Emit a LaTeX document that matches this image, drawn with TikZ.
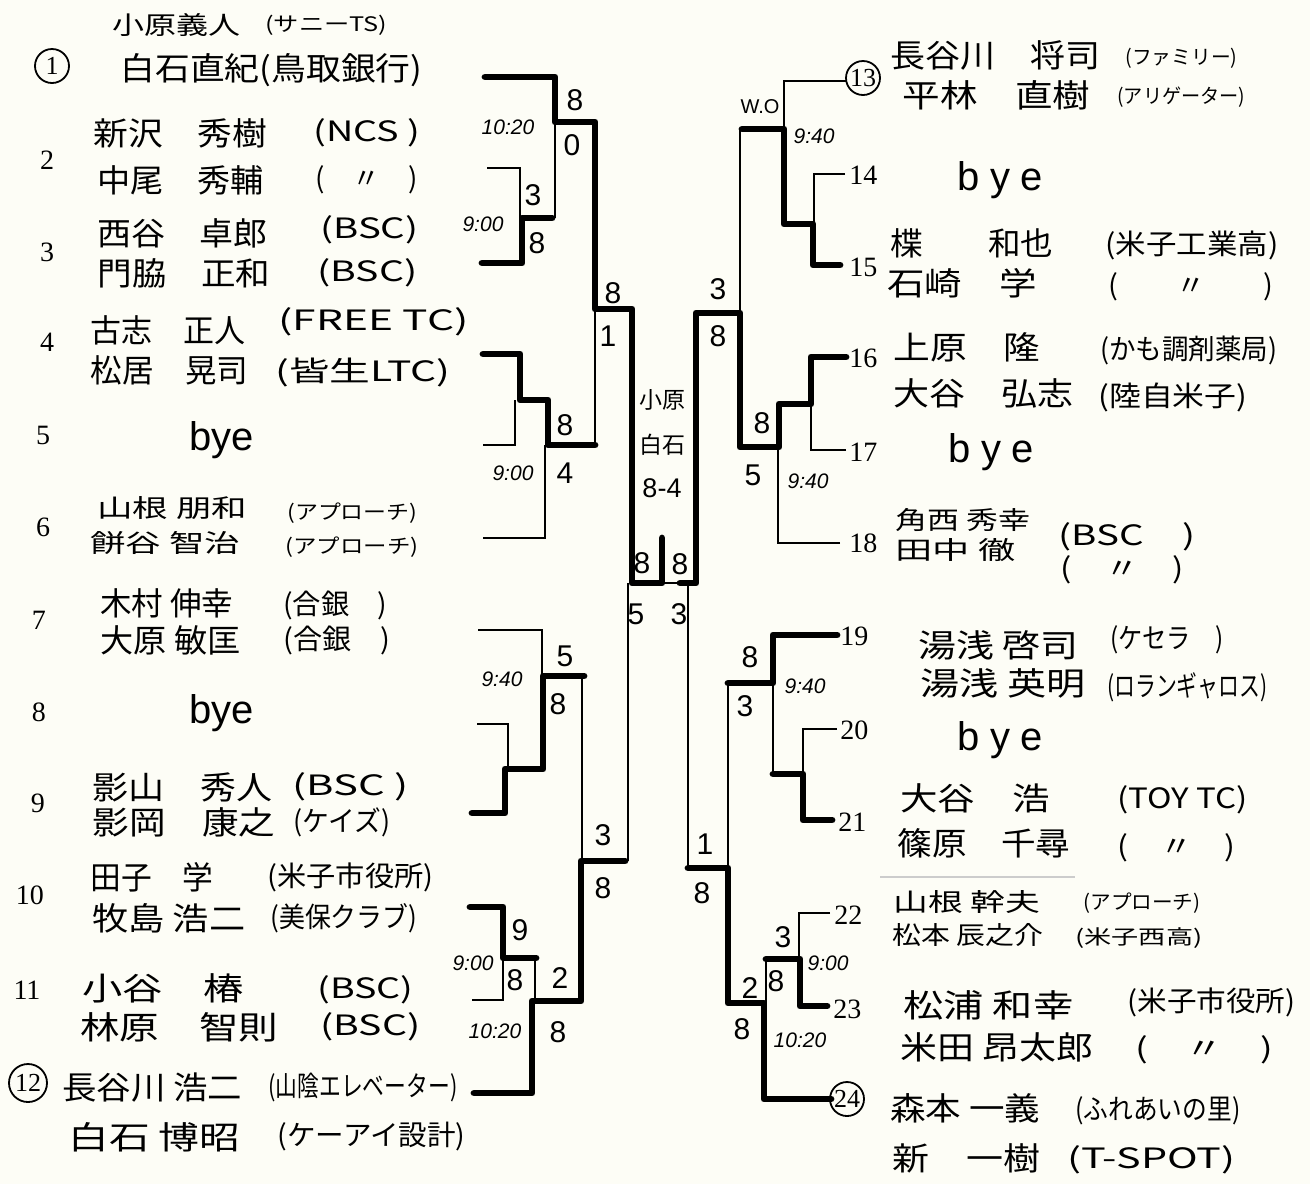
\documentclass[tikz,border=0pt]{standalone}
\usepackage{tikz}
\usepackage{graphicx}
\usepackage{fontspec}
\setmainfont{Liberation Serif}
\newfontfamily\jp{Noto Sans CJK JP}
\newfontfamily\hs{Liberation Sans}
\newlength\pxu \setlength\pxu{0.5pt}
\definecolor{paper}{RGB}{253,253,246}
\newcommand\tx[6]{\node[#1] (#2) at (#3,#4) {\resizebox{#5\pxu}{\height}{#6}};}
\tikzset{
  thk/.style={line width=3.4pt, line cap=round, line join=round},
  thn/.style={line width=0.9pt},
  nm/.style={anchor=west, inner sep=0pt, font=\jp\fontsize{16}{18}\selectfont},
  nms/.style={anchor=west, inner sep=0pt, font=\jp\fontsize{12.5}{15}\selectfont},
  tm/.style={anchor=west, inner sep=0pt, font=\jp\fontsize{14}{16}\selectfont},
  tms/.style={anchor=west, inner sep=0pt, font=\jp\fontsize{10}{12}\selectfont},
  sc/.style={inner sep=0pt, font=\hs\fontsize{15}{17}\selectfont},
  tim/.style={inner sep=0pt, font=\hs\itshape\fontsize{10.5}{12}\selectfont},
  seed/.style={inner sep=0pt, font=\fontsize{14}{16}\selectfont},
  rseed/.style={anchor=west, inner sep=0pt, font=\fontsize{14}{16}\selectfont},
  cseed/.style={draw, circle, line width=0.9pt, inner sep=0pt, minimum size=17pt, font=\fontsize{13}{15}\selectfont},
  byest/.style={inner sep=0pt, font=\hs\fontsize{20}{22}\selectfont},
  ctr/.style={inner sep=0pt, font=\jp\fontsize{11.5}{13}\selectfont},
}
\begin{document}
\begin{tikzpicture}[x=0.5pt,y=-0.5pt]
\useasboundingbox (0,0) rectangle (1310,1184);
\fill[paper] (0,0) rectangle (1310,1184);

% ---------- entry line ends ----------
\coordinate (e1) at (485,77);
\coordinate (e2) at (487,168);
\coordinate (e3) at (482,263);
\coordinate (e4) at (483,354);
\coordinate (e5) at (483,445);
\coordinate (e6) at (483,538);
\coordinate (e7) at (478,630);
\coordinate (e8) at (477,724);
\coordinate (e9) at (472,813);
\coordinate (e10) at (470,907);
\coordinate (e11) at (472,1000);
\coordinate (e12) at (474,1093);
\coordinate (e13) at (846,81);
\coordinate (e14) at (845,174);
\coordinate (e15) at (840,265);
\coordinate (e16) at (846,357);
\coordinate (e17) at (846,450);
\coordinate (e18) at (840,543);
\coordinate (e19) at (837,635);
\coordinate (e20) at (837,729);
\coordinate (e21) at (832,820);
\coordinate (e22) at (830,913);
\coordinate (e23) at (827,1006);
\coordinate (e24) at (831,1099);

% ---------- left upper half ----------
\draw[thk] (e1) -- (555,77) -- (555,122) -- (595,122) -- (595,309) -- (632,309) -- (632,583) -- (662,583) -- (662,538);
\draw[thn] (555,122) -- (555,218);
\draw[thn] (e2) -- (520,168) -- (520,218);
\draw[thk] (e3) -- (522,263) -- (522,218) -- (552,218);
\draw[thk] (e4) -- (520,354) -- (520,400) -- (548,400) -- (548,445) -- (595,445);
\draw[thn] (e5) -- (515,445) -- (515,400);
\draw[thn] (e6) -- (545,538) -- (545,445);
\draw[thn] (595,445) -- (595,309);

% ---------- final ----------
\draw[thn] (662,583) -- (680,583);
\draw[thk] (680,583) -- (696,583) -- (696,313) -- (740,313) -- (740,447) -- (779,447) -- (779,404) -- (811,404) -- (811,357) -- (e16);

% ---------- right upper half ----------
\draw[thn] (e17) -- (811,450) -- (811,404);
\draw[thn] (e18) -- (778,543) -- (778,447);
\draw[thn] (e13) -- (784,81) -- (784,129);
\draw[thk] (e15) -- (813,265) -- (813,224) -- (784,224) -- (784,129) -- (742,129);
\draw[thn] (e14) -- (814,174) -- (814,224);
\draw[thn] (740,129) -- (740,313);

% ---------- left lower half ----------
\draw[thn] (e7) -- (542,630) -- (542,676);
\draw[thk] (e9) -- (505,813) -- (505,769) -- (543,769) -- (543,676) -- (584,676);
\draw[thn] (e8) -- (508,724) -- (508,769);
\draw[thn] (582,676) -- (582,861);
\draw[thk] (e10) -- (503,907) -- (503,958) -- (536,958);
\draw[thn] (e11) -- (503,1000) -- (503,958);
\draw[thn] (535,958) -- (535,1001);
\draw[thk] (e12) -- (532,1093) -- (532,1001) -- (581,1001) -- (581,861) -- (625,861);
\draw[thn] (628,861) -- (628,583);

% ---------- right lower half ----------
\draw[thk] (e19) -- (773,635) -- (773,683) -- (728,683);
\draw[thn] (773,683) -- (773,774);
\draw[thn] (e20) -- (803,729) -- (803,774);
\draw[thk] (e21) -- (803,820) -- (803,774) -- (773,774);
\draw[thn] (728,683) -- (728,868);
\draw[thn] (e22) -- (799,913) -- (799,959);
\draw[thk] (e23) -- (800,1006) -- (800,959) -- (766,959);
\draw[thn] (766,959) -- (766,1003);
\draw[thk] (e24) -- (764,1099) -- (764,1003) -- (728,1003) -- (728,868) -- (688,868);
\draw[thn] (688,868) -- (688,583);

\draw[black!20, line width=0.6pt] (880,877) -- (1075,877);

% ---------- scores ----------
\node[sc] (a1) at (575,100) {8};
\node[sc] (a2) at (572,145) {0};
\node[sc] (a3) at (533,195) {3};
\node[sc] (a4) at (537,243) {8};
\node[sc] (a5) at (613,293) {8};
\node[sc] (a6) at (608,336) {1};
\node[sc] (a7) at (565,425) {8};
\node[sc] (a8) at (565,473) {4};
\node[sc] (a9) at (642,563) {8};
\node[sc] (a10) at (680,564) {8};
\node[sc] (a11) at (636,614) {5};
\node[sc] (a12) at (679,614) {3};
\node[sc] (a13) at (565,656) {5};
\node[sc] (a14) at (558,704) {8};
\node[sc] (a15) at (603,835) {3};
\node[sc] (a16) at (603,888) {8};
\node[sc] (a17) at (520,930) {9};
\node[sc] (a18) at (515,980) {8};
\node[sc] (a19) at (560,978) {2};
\node[sc] (a20) at (558,1032) {8};
\node[sc] (b1) at (718,289) {3};
\node[sc] (b2) at (718,336) {8};
\node[sc] (b3) at (762,423) {8};
\node[sc] (b4) at (753,475) {5};
\node[sc] (b5) at (750,657) {8};
\node[sc] (b6) at (745,706) {3};
\node[sc] (b7) at (705,844) {1};
\node[sc] (b8) at (702,893) {8};
\node[sc] (b9) at (783,937) {3};
\node[sc] (b10) at (776,981) {8};
\node[sc] (b11) at (750,988) {2};
\node[sc] (b12) at (742,1029) {8};

% ---------- times ----------
\node[tim] (m1) at (508,127) {10:20};
\node[tim] (m2) at (483,224) {9:00};
\node[tim] (m3) at (513,473) {9:00};
\node[tim] (m4) at (502,679) {9:40};
\node[tim] (m5) at (473,963) {9:00};
\node[tim] (m6) at (495,1031) {10:20};
\node[tim] (m7) at (814,136) {9:40};
\node[tim] (m8) at (808,481) {9:40};
\node[tim] (m9) at (805,686) {9:40};
\node[tim] (m10) at (828,963) {9:00};
\node[tim] (m11) at (800,1040) {10:20};
\node[tim, font=\hs\fontsize{10}{12}\selectfont] (wo) at (760,107) {W.O};

% ---------- centre ----------
\node[ctr] (c1) at (662,400) {小原};
\node[ctr] (c2) at (662,445) {白石};
\node[sc, font=\hs\fontsize{13.5}{15}\selectfont] (c3) at (662,488) {8-4};

% ---------- seeds ----------
\node[cseed] (s1) at (52,66) {1};
\node[seed] (s2) at (47,160) {2};
\node[seed] (s3) at (47,252) {3};
\node[seed] (s4) at (47,342) {4};
\node[seed] (s5) at (43,435) {5};
\node[seed] (s6) at (43,527) {6};
\node[seed] (s7) at (39,620) {7};
\node[seed] (s8) at (39,712) {8};
\node[seed] (s9) at (38,803) {9};
\node[seed] (s10) at (30,895) {10};
\node[seed] (s11) at (27,990) {11};
\node[cseed, minimum size=19pt] (s12) at (28,1083) {12};
\node[cseed] (s13) at (863,78) {13};
\node[rseed] (s14) at (849,175) {14};
\node[rseed] (s15) at (849,267) {15};
\node[rseed] (s16) at (849,358) {16};
\node[rseed] (s17) at (849,452) {17};
\node[rseed] (s18) at (849,543) {18};
\node[rseed] (s19) at (840,636) {19};
\node[rseed] (s20) at (840,730) {20};
\node[rseed] (s21) at (838,822) {21};
\node[rseed] (s22) at (834,915) {22};
\node[rseed] (s23) at (833,1009) {23};
\node[cseed] (s24) at (847,1099) {24};

% ---------- byes ----------
\node[byest] (y5) at (222,440) {bye};
\node[byest] (y8) at (222,713) {bye};
\node[byest] (y14) at (1000,180) {b\hspace{5pt}y\hspace{5pt}e};
\node[byest] (y17) at (991,452) {b\hspace{5pt}y\hspace{5pt}e};
\node[byest] (y20) at (1000,740) {b\hspace{5pt}y\hspace{5pt}e};

% ---------- left names ----------
\tx{nms}{n1a}{112}{25}{128}{小原義人}
\tx{tms}{t1a}{265}{25}{122}{(サニーTS)}
\tx{nm}{n1b}{120}{70}{302}{白石直紀(鳥取銀行)}
\tx{nm}{n2a}{93}{133}{174}{新沢　秀樹}
\tx{tm}{t2a}{313}{133}{107}{(NCS )}
\tx{nm}{n2b}{97}{180}{166}{中尾　秀輔}
\tx{tm}{t2b}{315}{180}{102}{(　〃　)}
\tx{nm}{n3a}{97}{233}{170}{西谷　卓郎}
\tx{tm}{t3a}{320}{230}{98}{(BSC)}
\tx{nm}{n3b}{97}{273}{173}{門脇　正和}
\tx{tm}{t3b}{317}{273}{100}{(BSC)}
\tx{nm}{n4a}{90}{330}{155}{古志　正人}
\tx{tm}{t4a}{278}{322}{190}{(FREE TC)}
\tx{nm}{n4b}{90}{370}{158}{松居　晃司}
\tx{tm}{t4b}{275}{372}{175}{(皆生LTC)}
\tx{nms}{n6a}{97}{508}{150}{山根 朋和}
\tx{tms}{t6a}{287}{513}{130}{(アプローチ)}
\tx{nms}{n6b}{90}{543}{150}{餅谷 智治}
\tx{tms}{t6b}{285}{547}{133}{(アプローチ)}
\tx{nm}{n7a}{100}{603}{133}{木村 伸幸}
\tx{tm}{t7a}{283}{605}{104}{(合銀　)}
\tx{nm}{n7b}{100}{640}{140}{大原 敏匡}
\tx{tm}{t7b}{283}{640}{107}{(合銀　)}
\tx{nm}{n9a}{92}{787}{180}{影山　秀人}
\tx{tm}{t9a}{292}{787}{116}{(BSC )}
\tx{nm}{n9b}{92}{822}{183}{影岡　康之}
\tx{tm}{t9b}{293}{822}{97}{(ケイズ)}
\tx{nm}{n10a}{90}{877}{123}{田子　学}
\tx{tm}{t10a}{267}{877}{166}{(米子市役所)}
\tx{nm}{n10b}{92}{918}{153}{牧島 浩二}
\tx{tm}{t10b}{270}{918}{147}{(美保クラブ)}
\tx{nm}{n11a}{82}{988}{161}{小谷　椿}
\tx{tm}{t11a}{317}{990}{96}{(BSC)}
\tx{nm}{n11b}{80}{1027}{198}{林原　智則}
\tx{tm}{t11b}{320}{1027}{100}{(BSC)}
\tx{nm}{n12a}{62}{1088}{180}{長谷川 浩二}
\tx{tm}{t12a}{268}{1088}{189}{(山陰エレベーター)}
\tx{nm}{n12b}{68}{1137}{172}{白石 博昭}
\tx{tm}{t12b}{277}{1137}{188}{(ケーアイ設計)}

% ---------- right names ----------
\tx{nm}{n13a}{890}{55}{210}{長谷川　将司}
\tx{tms}{t13a}{1125}{58}{112}{(ファミリー)}
\tx{nm}{n13b}{902}{95}{188}{平林　直樹}
\tx{tms}{t13b}{1117}{97}{128}{(アリゲーター)}
\tx{nm}{n15a}{890}{243}{163}{楪　　和也}
\tx{tm}{t15a}{1105}{245}{173}{(米子工業高)}
\tx{nm}{n15b}{887}{283}{150}{石崎　学}
\tx{tm}{t15b}{1108}{287}{165}{(　　〃　　)}
\tx{nm}{n16a}{893}{347}{147}{上原　隆}
\tx{tm}{t16a}{1100}{350}{177}{(かも調剤薬局)}
\tx{nm}{n16b}{893}{393}{180}{大谷　弘志}
\tx{tm}{t16b}{1098}{397}{149}{(陸自米子)}
\tx{nms}{n18a}{895}{520}{135}{角西 秀幸}
\tx{nms}{n18b}{895}{550}{120}{田中 徹}
\tx{tm}{t18a}{1058}{537}{137}{(BSC　)}
\tx{tm}{t18b}{1060}{570}{123}{(　〃　)}
\tx{nm}{n19a}{918}{645}{160}{湯浅 啓司}
\tx{tm}{t19a}{1110}{640}{113}{(ケセラ　)}
\tx{nm}{n19b}{920}{683}{165}{湯浅 英明}
\tx{tm}{t19b}{1107}{687}{160}{(ロランギャロス)}
\tx{nm}{n21a}{900}{798}{150}{大谷　浩}
\tx{tm}{t21a}{1117}{800}{130}{(TOY TC)}
\tx{nm}{n21b}{897}{843}{173}{篠原　千尋}
\tx{tm}{t21b}{1117}{848}{118}{(　〃　)}
\tx{nms}{n22a}{893}{902}{147}{山根 幹夫}
\tx{tms}{t22a}{1083}{903}{117}{(アプローチ)}
\tx{nms}{n22b}{892}{935}{151}{松本 辰之介}
\tx{tms}{t22b}{1075}{938}{127}{(米子西高)}
\tx{nm}{n23a}{903}{1005}{170}{松浦 和幸}
\tx{tm}{t23a}{1127}{1002}{168}{(米子市役所)}
\tx{nm}{n23b}{900}{1047}{193}{米田 昂太郎}
\tx{tm}{t23b}{1135}{1050}{138}{(　〃　)}
\tx{nm}{n24a}{890}{1108}{150}{森本 一義}
\tx{tm}{t24a}{1075}{1111}{165}{(ふれあいの里)}
\tx{nm}{n24b}{892}{1158}{148}{新　一樹}
\tx{tm}{t24b}{1067}{1160}{168}{(T-SPOT)}
\end{tikzpicture}
\end{document}
